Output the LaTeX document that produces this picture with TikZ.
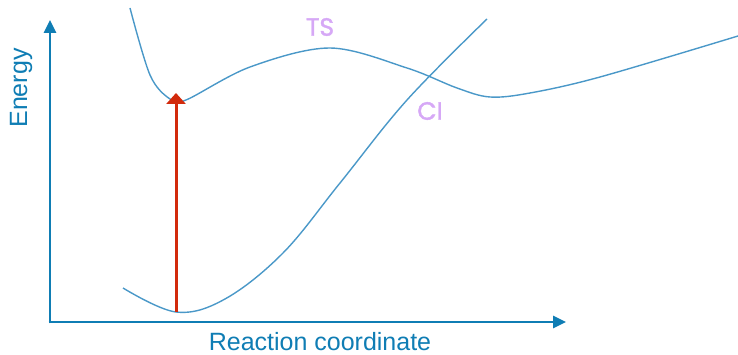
\documentclass[tikz,border=0pt]{standalone}
\usepackage{fontspec}
\setmainfont{Liberation Sans}
\newfontfamily\geofont[RawFeature={embolden=1.6}]{Poppins}
\usepackage{xcolor}
\usetikzlibrary{arrows.meta,positioning,calc}
\definecolor{axisblue}{HTML}{0F7DB4}
\definecolor{pesblue}{HTML}{4A98C8}
\definecolor{exred}{HTML}{D22A0C}
\definecolor{lav}{HTML}{D6A8F6}
\tikzset{
  axis/.style={-{Triangle[length=13pt, width=12pt]}, line width=2.8pt, draw=axisblue},
  pes/.style={draw=pesblue, line width=1.4pt},
  exc/.style={-{Triangle[length=11pt, width=19pt]}, line width=3pt, draw=exred},
  axlbl/.style={font=\fontsize{25}{30}\selectfont, text=axisblue, inner sep=0pt},
  ptlbl/.style={font=\geofont\fontsize{25}{28}\selectfont, text=lav, inner sep=0pt},
}

\begin{document}
\begin{tikzpicture}[x=1pt, y=-1pt]
\useasboundingbox (0,0) rectangle (738,355);
% axes
\coordinate (o) at (50,322);
\coordinate (ytip) at (50,20);
\coordinate (xtip) at (566,322);
\draw[axis] ([yshift=-1.4pt]o) -- (ytip);
\draw[axis] ([xshift=-1.4pt]o) -- (xtip);
\node[axlbl, rotate=90] (elbl) at (21,88) {Energy};
\node[axlbl, anchor=base] (rclbl) at (320,350) {Reaction coordinate};
% ground state
\draw[pes] plot[smooth, tension=0.6] coordinates {
  (123,288) (176,312) (225,299) (283,253) (340,183) (407,100) (487,19)};
% excited state
\draw[pes] plot[smooth, tension=0.55] coordinates {
  (130,8) (150,75) (170,99) (186,100) (250,67) (330,48) (407,68)
  (457,88) (490,97) (530,93) (600,77) (738,36)};
% vertical excitation
\coordinate (gsmin) at (176,312);
\coordinate (esmin) at (176,93);
\draw[exc] (gsmin) -- (esmin);
\node[ptlbl] (ts) at (320,27) {TS};
\node[ptlbl] (ci) at (430,111) {CI};
\end{tikzpicture}
\end{document}
